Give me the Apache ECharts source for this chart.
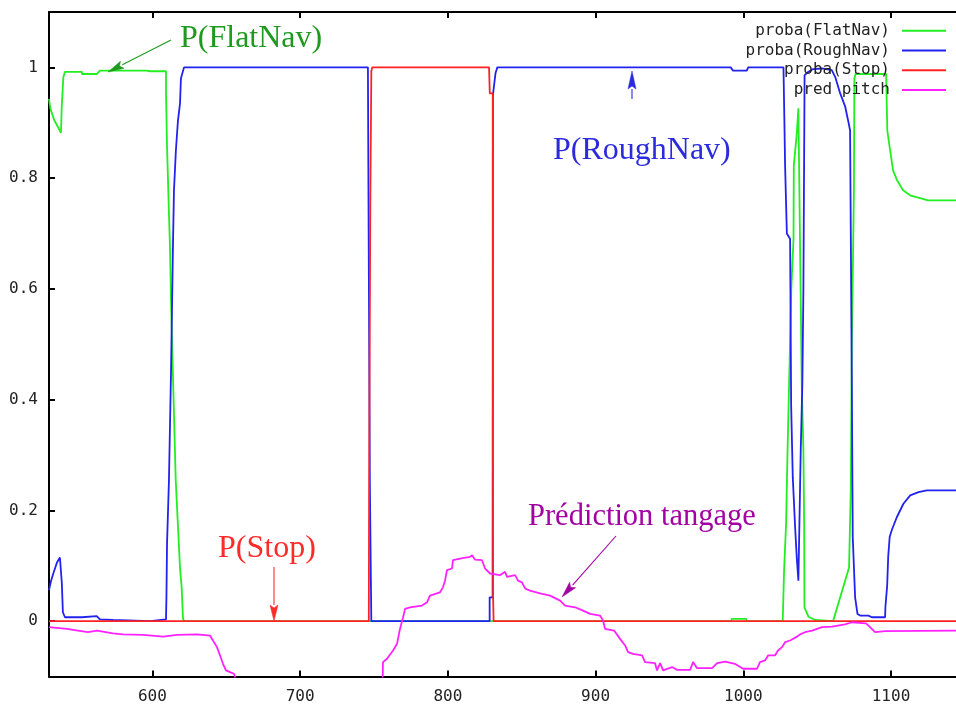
<!DOCTYPE html>
<html><head><meta charset="utf-8">
<script src="https://cdn.jsdelivr.net/npm/echarts@6/dist/echarts.min.js"></script>
<style>html,body{margin:0;padding:0;background:#fff}#c{width:956px;height:706px}</style>
</head><body><div id="c"></div>
<script>
// ---- data ----
const xTicks = [600, 700, 800, 900, 1000, 1100];
const yTicks = [0, 0.2, 0.4, 0.6, 0.8, 1];

const flatX = [530, 531, 533.5, 536.5, 538.1, 538.6, 539.7, 540.8, 552.3, 552.3, 562.3, 564.5, 596.1, 598.4, 609.2, 609.2, 609.9, 611.2, 611.9, 612.6, 613.9, 615.8, 616.5, 618.7, 619.8, 620.7, 621.4, 992, 992.2, 1002, 1002.2, 1026.7, 1027.6, 1029, 1029.9, 1031.2, 1032.5, 1034, 1034.2, 1036.2, 1037.3, 1038.5, 1038.8, 1039.6, 1040.7, 1041.2, 1041.4, 1044.1, 1048.6, 1049, 1060.8, 1071.6, 1072.8, 1073.5, 1074.9, 1075.2, 1076, 1096.7, 1097.5, 1099.4, 1101.4, 1104.1, 1108.2, 1112.9, 1119.7, 1125.1, 1144];
const flatY = [0.943, 0.925, 0.905, 0.89, 0.882, 0.928, 0.982, 0.992, 0.992, 0.988, 0.988, 0.994, 0.994, 0.993, 0.993, 0.955, 0.857, 0.736, 0.675, 0.58, 0.444, 0.254, 0.215, 0.095, 0.061, 0.005, 0, 0, 0.004, 0.004, 0, 0, 0.09, 0.177, 0.30, 0.45, 0.6, 0.69, 0.823, 0.88, 0.926, 0.926, 0.6, 0.426, 0.308, 0.176, 0.025, 0.008, 0.002, 0, 0, 0.097, 0.24, 0.5, 0.78, 0.98, 0.988, 0.988, 0.886, 0.85, 0.814, 0.796, 0.778, 0.769, 0.764, 0.76, 0.76];

const roughX = [530, 531.4, 533.4, 535.4, 537.4, 538.1, 538.7, 539.4, 540.8, 552.3, 552.5, 562.3, 564.5, 573.3, 574, 598.4, 609.2, 609.5, 609.9, 611.2, 612.6, 613.9, 614.6, 615.9, 617.3, 618.7, 619.3, 621.4, 745.9, 746.3, 747.2, 748.2, 828.3, 828.3, 830.3, 830.5, 832.3, 833.5, 991.5, 993.1, 1002.4, 1003.3, 1027.2, 1027.8, 1028.3, 1029.5, 1031.7, 1032.4, 1033.5, 1035.1, 1036.2, 1037.3, 1038, 1038.9, 1040, 1040.7, 1041.5, 1044.1, 1047.3, 1053.2, 1059.9, 1062.2, 1065.6, 1069, 1071.2, 1072.3, 1073.5, 1074.1, 1075.7, 1077.3, 1079.1, 1084.7, 1087, 1096, 1096.2, 1097.4, 1098.1, 1099.1, 1100.6, 1104, 1108.4, 1113, 1118.6, 1124.2, 1144];
const roughY = [0.056, 0.073, 0.09, 0.106, 0.115, 0.115, 0.068, 0.016, 0.007, 0.007, 0.009, 0.009, 0.003, 0.002, 0, 0, 0.003, 0.043, 0.14, 0.254, 0.45, 0.675, 0.778, 0.85, 0.904, 0.935, 0.98, 1, 1, 0.75, 0.25, 0, 0, 0.043, 0.043, 0.95, 0.99, 1, 1, 0.994, 0.994, 1, 1, 0.908, 0.823, 0.70, 0.69, 0.39, 0.26, 0.169, 0.115, 0.073, 0.073, 0.31, 0.43, 0.6, 0.986, 0.992, 0.997, 0.998, 0.995, 0.983, 0.953, 0.929, 0.901, 0.886, 0.42, 0.152, 0.043, 0.013, 0.01, 0.01, 0.007, 0.007, 0.025, 0.064, 0.116, 0.152, 0.165, 0.188, 0.212, 0.227, 0.233, 0.236, 0.236];

const stopX = [530, 746.5, 746.7, 747.5, 748.2, 748.8, 827.9, 828.4, 830.4, 830.6, 831, 1144];
const stopY = [0, 0, 0.25, 0.75, 0.993, 1, 1, 0.953, 0.953, 0.046, 0, 0];

const pitchX = [530, 542.2, 549.6, 556.4, 562.5, 573.3, 580.1, 593.6, 607.2, 616.7,
  630.2, 639.0, 641.0, 643.7, 645.8, 647.8, 649.8, 652.5, 655.2, 659.3,
  752.7, 755.9, 756.1, 758.8, 762.9, 765.6, 767.6, 769.7, 771.0, 774.4,
  782.5, 785.9, 787.9, 794.7, 796.7, 798.1, 799.4, 802.8, 803.5, 808.2,
  815.0, 816.4, 818.4, 823.1, 825.2, 828.6, 835.3, 838.7, 840.1, 845.5,
  847.5, 850.2, 852.3, 855.6, 862.4, 869.2, 876.0, 879.3, 886.1, 891.5,
  896.3, 903.0, 905.1, 906.4, 912.5, 916.6, 920.0, 922.0, 925.4, 931.5,
  933.5, 940.3, 941.6, 943.7, 945.7, 951.8, 955.2, 964.0, 966.0, 968.7,
  978.9, 982.3, 987.7, 994.4, 999.8, 1009.3, 1011.3, 1014.7, 1016.8, 1021.5,
  1023.5, 1026.2, 1028.3, 1031.7, 1036.4, 1038.4, 1041.8, 1046.6, 1053.3, 1060.1,
  1068.9, 1073.6, 1083.1, 1085.8, 1089.2, 1096.0, 1144];
const pitchY = [-0.011, -0.014, -0.017, -0.020, -0.017, -0.022, -0.024, -0.025, -0.028, -0.025,
  -0.024, -0.026, -0.035, -0.047, -0.062, -0.077, -0.089, -0.092, -0.095, -0.125,
  -0.125, -0.101, -0.074, -0.068, -0.053, -0.041, -0.014, 0.007, 0.022, 0.025,
  0.028, 0.034, 0.046, 0.052, 0.061, 0.073, 0.092, 0.095, 0.110, 0.113,
  0.116, 0.119, 0.111, 0.110, 0.095, 0.086, 0.083, 0.089, 0.080, 0.083,
  0.073, 0.070, 0.059, 0.055, 0.050, 0.046, 0.037, 0.028, 0.025, 0.019,
  0.013, 0.010, 0.001, -0.014, -0.017, -0.032, -0.044, -0.056, -0.059, -0.062,
  -0.074, -0.076, -0.089, -0.076, -0.089, -0.083, -0.088, -0.088, -0.074, -0.085,
  -0.085, -0.076, -0.073, -0.077, -0.086, -0.086, -0.074, -0.071, -0.062, -0.062,
  -0.053, -0.047, -0.038, -0.035, -0.028, -0.024, -0.020, -0.017, -0.011, -0.010,
  -0.006, -0.002, -0.004, -0.011, -0.020, -0.018, -0.017];

const seriesNames = ['proba(FlatNav)', 'proba(RoughNav)', 'proba(Stop)', 'pred pitch'];
const seriesColors = ['#22ee22', '#2222ee', '#ff2222', '#ff22ff'];

// ---- chart ----
const zip = (xs, ys) => xs.slice(0, Math.min(xs.length, ys.length)).map((x, i) => [x, ys[i]]);
const mono = 'DejaVu Sans Mono';
const serif = 'Liberation Serif';
const chart = echarts.init(document.getElementById('c'), null, {renderer: 'canvas'});

function arrow(x1, y1, x2, y2, color, head, w) {
  const dx = x2 - x1, dy = y2 - y1, L = Math.hypot(dx, dy), ux = dx / L, uy = dy / L;
  const bx = x2 - ux * head, by = y2 - uy * head;
  return [
    {type: 'line', shape: {x1: x1, y1: y1, x2: bx, y2: by}, style: {stroke: color, lineWidth: 1.1}, z: 100},
    {type: 'polygon', shape: {points: [[x2, y2], [bx - uy * w, by + ux * w], [bx + ux * 3, by + uy * 3], [bx + uy * w, by - ux * w]]},
      style: {fill: color, stroke: color, lineWidth: 0.5}, z: 100}
  ];
}
function label(text, x, y, color, size) {
  return {type: 'text', x: x, y: y, z: 100,
    style: {text: text, fill: color, font: size + 'px "' + serif + '"', verticalAlign: 'middle', align: 'left'}};
}

const axisLineStyle = {color: '#000', width: 2};
const lineSeries = [[flatX, flatY], [roughX, roughY], [stopX, stopY], [pitchX, pitchY]].map((d, i) => ({
  name: seriesNames[i], type: 'line', data: zip(d[0], d[1]), showSymbol: false, symbol: 'none',
  lineStyle: {width: 1.8, color: seriesColors[i]}, itemStyle: {color: seriesColors[i]},
  clip: true, animation: false, z: 2 + i
}));

chart.setOption({
  animation: false,
  backgroundColor: '#fff',
  grid: {left: 49, right: 0, top: 12, bottom: 29.5},
  legend: {
    orient: 'vertical', right: 5, top: 17, align: 'right', selectedMode: false,
    icon: 'rect', itemWidth: 44, itemHeight: 2, itemGap: 2,
    textStyle: {fontFamily: mono, fontSize: 16, color: '#222', lineHeight: 17.7, padding: [0, 7, 0, 0]},
    data: seriesNames
  },
  xAxis: [
    {type: 'value', min: 530, max: 1144, position: 'bottom',
      axisLine: {show: true, onZero: false, lineStyle: axisLineStyle},
      axisTick: {show: true, inside: true, length: 6, customValues: xTicks, lineStyle: axisLineStyle},
      axisLabel: {customValues: xTicks, margin: 12, fontFamily: mono, fontSize: 16, color: '#222',
        formatter: v => String(Math.round(v))},
      splitLine: {show: false}},
    {type: 'value', min: 530, max: 1144, position: 'top',
      axisLine: {show: true, onZero: false, lineStyle: axisLineStyle},
      axisTick: {show: true, inside: true, length: 6, customValues: xTicks, lineStyle: axisLineStyle},
      axisLabel: {show: false}, splitLine: {show: false}}
  ],
  yAxis: {type: 'value', min: -0.1, max: 1.1,
    axisLine: {show: true, onZero: false, lineStyle: axisLineStyle},
    axisTick: {show: true, inside: true, length: 6, customValues: yTicks, lineStyle: axisLineStyle},
    axisLabel: {customValues: yTicks, margin: 11, fontFamily: mono, fontSize: 16, color: '#222',
      formatter: v => String(+(+v).toFixed(1))},
    splitLine: {show: false}},
  series: lineSeries,
  graphic: [].concat(
    [label('P(FlatNav)', 180, 38.5, '#1f9a1f', 32)],
    arrow(171, 40, 108, 72, '#1f9a1f', 16, 4),
    [label('P(RoughNav)', 553, 151, '#2b2bdd', 32)],
    arrow(632, 99, 632, 71, '#2b2bdd', 18, 4),
    [label('P(Stop)', 218, 549, '#ff2a2a', 32)],
    arrow(274, 567, 274, 621, '#ff2a2a', 16, 4),
    [label('Prédiction tangage', 528, 517, '#a300a3', 30.5)],
    arrow(616, 536, 562, 597, '#a300a3', 16, 4)
  )
});
</script></body></html>
